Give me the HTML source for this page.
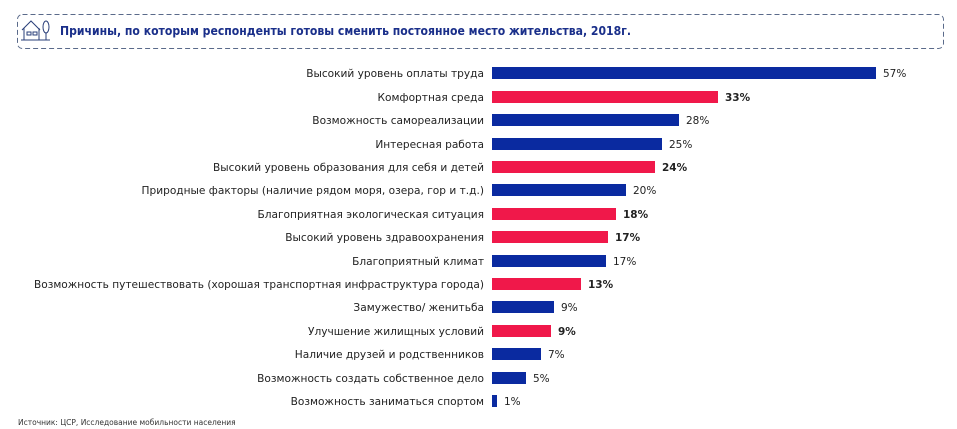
<!DOCTYPE html>
<html><head><meta charset="utf-8"><style>
body{margin:0;background:#fff;}
svg{display:block;font-family:"DejaVu Sans","Liberation Sans",sans-serif;}
</style></head><body>
<svg width="957" height="429" xmlns="http://www.w3.org/2000/svg">
<rect x="17.5" y="14.5" width="926" height="34" rx="5" fill="none" stroke="#5a6a8a" stroke-width="1" stroke-dasharray="5,3"/>
<g fill="none" stroke="#2a3f7a" stroke-width="1">
<path d="M22 30 L31 21 L40 30"/><path d="M24 28 V40 H39 V28"/><rect x="27" y="32" width="4" height="3"/><rect x="33" y="32" width="4" height="3"/>
<ellipse cx="46" cy="27" rx="3" ry="6"/><path d="M46 33 V40"/><path d="M21 40 H50"/>
</g>
<text x="60" y="35" font-size="12" font-weight="bold" fill="#1a2f8a" textLength="571" lengthAdjust="spacingAndGlyphs">Причины, по которым респонденты готовы сменить постоянное место жительства, 2018г.</text>
<g font-size="10.6" fill="#222" text-anchor="end">
<text x="484" y="77">Высокий уровень оплаты труда</text>
<text x="484" y="101">Комфортная среда</text>
<text x="484" y="124">Возможность самореализации</text>
<text x="484" y="148">Интересная работа</text>
<text x="484" y="171">Высокий уровень образования для себя и детей</text>
<text x="484" y="194">Природные факторы (наличие рядом моря, озера, гор и т.д.)</text>
<text x="484" y="218">Благоприятная экологическая ситуация</text>
<text x="484" y="241">Высокий уровень здравоохранения</text>
<text x="484" y="265">Благоприятный климат</text>
<text x="484" y="288" textLength="450" lengthAdjust="spacingAndGlyphs">Возможность путешествовать (хорошая транспортная инфраструктура города)</text>
<text x="484" y="311">Замужество/ женитьба</text>
<text x="484" y="335">Улучшение жилищных условий</text>
<text x="484" y="358">Наличие друзей и родственников</text>
<text x="484" y="382">Возможность создать собственное дело</text>
<text x="484" y="405">Возможность заниматься спортом</text>
</g>
<g>
<rect x="492" y="67" width="384" height="12" fill="#0a2aa0"/>
<rect x="492" y="91" width="226" height="12" fill="#f0184a"/>
<rect x="492" y="114" width="187" height="12" fill="#0a2aa0"/>
<rect x="492" y="138" width="170" height="12" fill="#0a2aa0"/>
<rect x="492" y="161" width="163" height="12" fill="#f0184a"/>
<rect x="492" y="184" width="134" height="12" fill="#0a2aa0"/>
<rect x="492" y="208" width="124" height="12" fill="#f0184a"/>
<rect x="492" y="231" width="116" height="12" fill="#f0184a"/>
<rect x="492" y="255" width="114" height="12" fill="#0a2aa0"/>
<rect x="492" y="278" width="89" height="12" fill="#f0184a"/>
<rect x="492" y="301" width="62" height="12" fill="#0a2aa0"/>
<rect x="492" y="325" width="59" height="12" fill="#f0184a"/>
<rect x="492" y="348" width="49" height="12" fill="#0a2aa0"/>
<rect x="492" y="372" width="34" height="12" fill="#0a2aa0"/>
<rect x="492" y="395" width="5" height="12" fill="#0a2aa0"/>
</g>
<g font-size="10.5" fill="#222">
<text x="883" y="77">57%</text>
<text x="725" y="101" font-weight="bold">33%</text>
<text x="686" y="124">28%</text>
<text x="669" y="148">25%</text>
<text x="662" y="171" font-weight="bold">24%</text>
<text x="633" y="194">20%</text>
<text x="623" y="218" font-weight="bold">18%</text>
<text x="615" y="241" font-weight="bold">17%</text>
<text x="613" y="265">17%</text>
<text x="588" y="288" font-weight="bold">13%</text>
<text x="561" y="311">9%</text>
<text x="558" y="335" font-weight="bold">9%</text>
<text x="548" y="358">7%</text>
<text x="533" y="382">5%</text>
<text x="504" y="405">1%</text>
</g>
<text x="18" y="425" font-size="7.5" fill="#333">Источник: ЦСР, Исследование мобильности населения</text>
</svg>
</body></html>
